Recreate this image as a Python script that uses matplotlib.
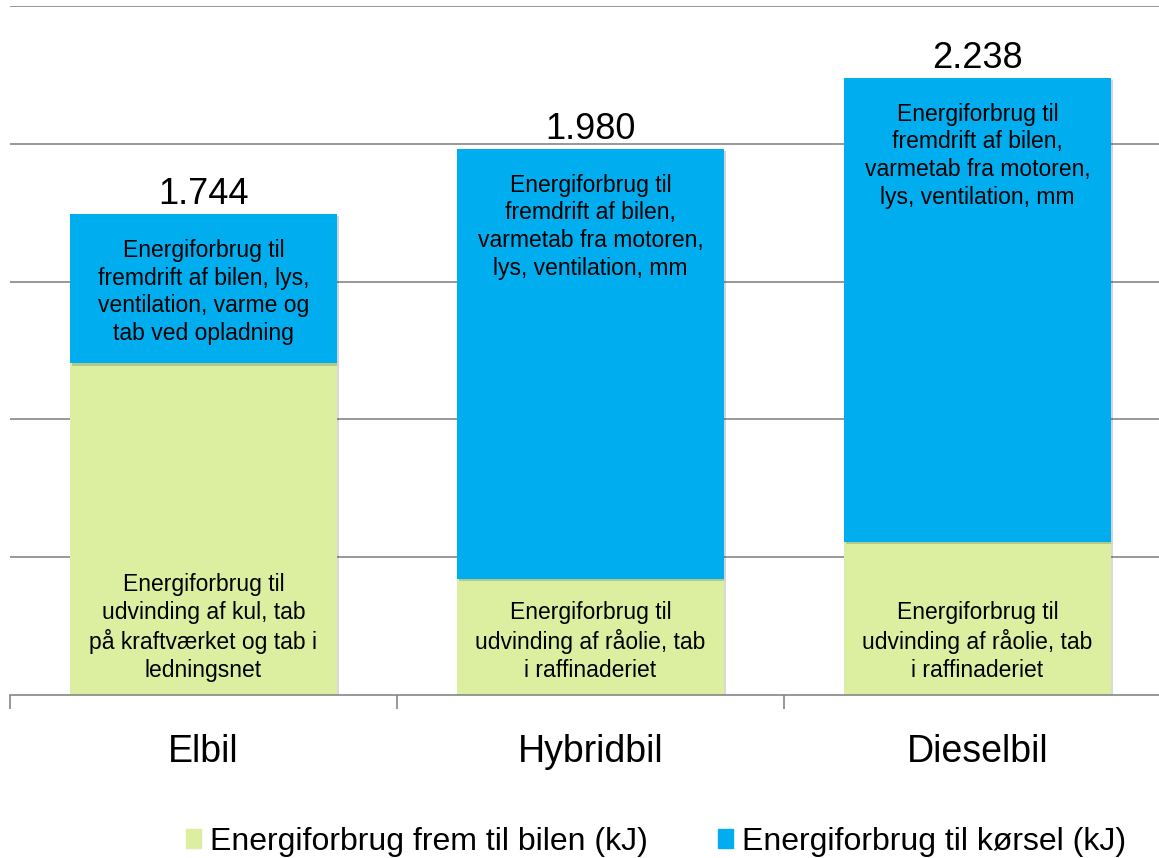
import matplotlib.pyplot as plt
import matplotlib.patheffects as pe
from matplotlib.patches import Patch

plt.rcParams['font.family'] = ['Liberation Sans', 'DejaVu Sans']

# data (kJ)
cars = ['Elbil', 'Hybridbil', 'Dieselbil']
frem_til_bilen = [1203, 421, 556]
koersel = [541, 1559, 1682]
totals = [1744, 1980, 2238]

green_txt = ['Energiforbrug til\nudvinding af kul, tab\npå kraftværket og tab i\nledningsnet',
             'Energiforbrug til\nudvinding af råolie, tab\ni raffinaderiet',
             'Energiforbrug til\nudvinding af råolie, tab\ni raffinaderiet']
blue_txt = ['Energiforbrug til\nfremdrift af bilen, lys,\nventilation, varme og\ntab ved opladning',
            'Energiforbrug til\nfremdrift af bilen,\nvarmetab fra motoren,\nlys, ventilation, mm',
            'Energiforbrug til\nfremdrift af bilen,\nvarmetab fra motoren,\nlys, ventilation, mm']

green = '#DCEFA1'
blue = '#00AEEF'
grid_c = '#868686'

fig = plt.figure(figsize=(11.59, 8.58), dpi=100)
# plot area runs past the right edge, like the cropped original
ax = fig.add_axes([10 / 1159, 163 / 858, 1161 / 1159, 689 / 858])

x = range(len(cars))
shadow = [pe.SimplePatchShadow(offset=(1.5, -1.5), alpha=0.2), pe.Normal()]
b1 = ax.bar(x, frem_til_bilen, width=0.69, color=green, zorder=3)
b2 = ax.bar(x, koersel, width=0.69, bottom=frem_til_bilen, color=blue, zorder=3)
for r in list(b1) + list(b2):
    r.set_path_effects(shadow)

for i in x:
    ax.annotate(f'{totals[i]:,}'.replace(',', '.'), (i, totals[i]),
                xytext=(0, 1.5), textcoords='offset points',
                ha='center', va='bottom', fontsize=26)
    ax.annotate(blue_txt[i], (i, totals[i]), xytext=(0, -17.5),
                textcoords='offset points', ha='center', va='top',
                fontsize=16.5, linespacing=1.27, zorder=4)
    ax.annotate(green_txt[i], (i, 0), xytext=(0, 9.5),
                textcoords='offset points', ha='center', va='bottom',
                fontsize=16.5, linespacing=1.27, zorder=4)

ax.set_ylim(0, 2500)
ax.set_xlim(-0.5, 2.5)
ax.set_yticks([500, 1000, 1500, 2000, 2500])
ax.yaxis.grid(True, color=grid_c, linewidth=1.2)
ax.tick_params(axis='y', left=False, labelleft=False)

ax.set_xticks(list(x))
ax.set_xticklabels(cars, fontsize=27)
ax.set_xticks([-0.5, 0.5, 1.5, 2.5], minor=True)
ax.tick_params(axis='x', which='major', length=0, pad=28)
ax.tick_params(axis='x', which='minor', length=10, width=1.2, color=grid_c)

for s in ['top', 'right', 'left']:
    ax.spines[s].set_visible(False)
ax.spines['bottom'].set_color(grid_c)
ax.spines['bottom'].set_linewidth(1.2)
ax.spines['bottom'].set_zorder(5)

handles = [Patch(color=green, label='Energiforbrug frem til bilen (kJ)'),
           Patch(color=blue, label='Energiforbrug til kørsel (kJ)')]
fig.legend(handles=handles, loc='center', bbox_to_anchor=(0.566, 0.019),
           ncol=2, frameon=False, fontsize=23, handlelength=0.48,
           handleheight=0.55, handletextpad=0.28, columnspacing=2.2)

fig.savefig('out.png', dpi=100)
